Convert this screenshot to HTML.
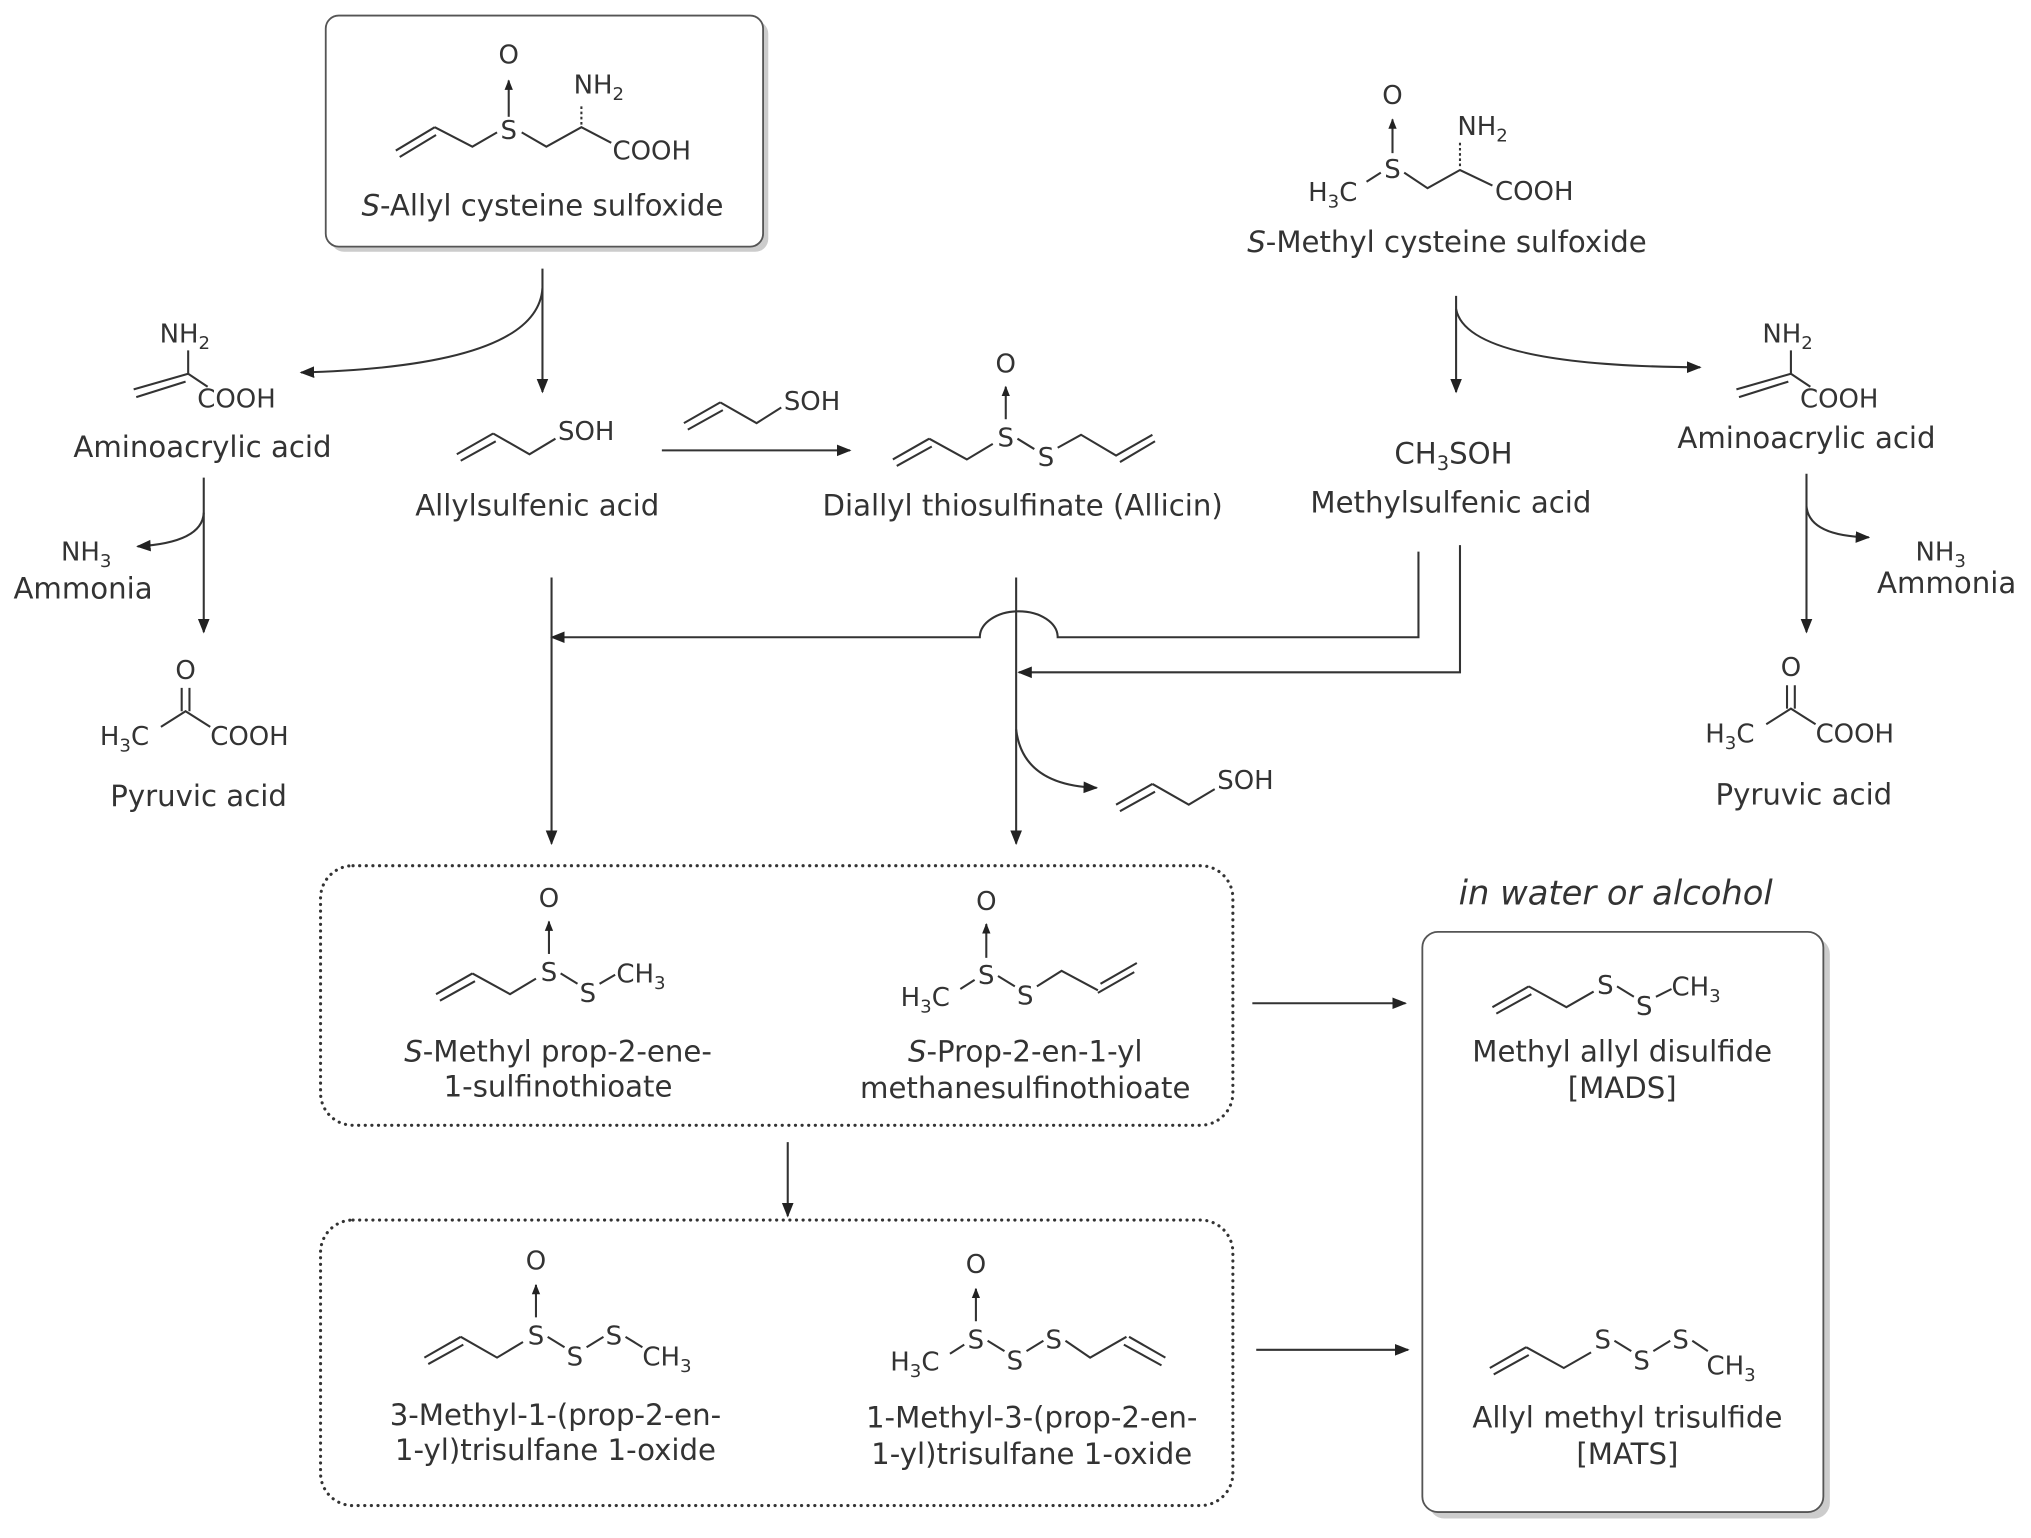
<!DOCTYPE html>
<html><head><meta charset="utf-8"><style>
html,body{margin:0;padding:0;background:#fff}
svg{display:block}
text{font-family:"DejaVu Sans","Liberation Sans",sans-serif;fill:#333;font-size:22.5px}
.m{font-size:20px}
.l{stroke:#333;stroke-width:1.6;fill:none}
.b{stroke:#333;stroke-width:2.4;fill:none;stroke-dasharray:0.1 5;stroke-linecap:round}
</style></head><body>
<svg width="2031" height="1538" viewBox="0 0 1565 1185" preserveAspectRatio="none" xmlns="http://www.w3.org/2000/svg">
<defs>
<marker id="a" viewBox="0 0 10 10" refX="9" refY="5" markerWidth="7" markerHeight="7" orient="auto-start-reverse"><path d="M0,1 L10,5 L0,9 z" fill="#222"/></marker>
<marker id="o" viewBox="0 0 10 10" refX="9" refY="5" markerWidth="5" markerHeight="7" orient="auto"><path d="M0,1 L10,5 L0,9 z" fill="#222"/></marker>
</defs>

<!-- top-left box -->
<rect x="255" y="16" width="337" height="178" rx="10" fill="#ccc"/>
<rect x="251" y="12" width="337" height="178" rx="10" fill="#fff" stroke="#555" stroke-width="1.4"/>
<text x="392" y="49" text-anchor="middle" class="m">O</text>
<path class="l" d="M392,90 L392,62" marker-end="url(#o)"/>
<text x="392" y="107" text-anchor="middle" class="m">S</text>
<path class="l" d="M305,116 L335,98 M308,121 L336,104 M335,98 L364,113 L383,102 M402,102 L421,113 L448,98 L471,110"/>
<path class="l" d="M448,96 L448,80" stroke-dasharray="2 2"/>
<text x="442" y="72" class="m">NH<tspan font-size="14" dy="5">2</tspan></text>
<text x="472" y="123" class="m">COOH</text>
<text x="418" y="166" text-anchor="middle"><tspan font-style="italic">S</tspan>-Allyl cysteine sulfoxide</text>

<path class="l" d="M418,207 L418,302" marker-end="url(#a)"/>
<path class="l" d="M418,222 Q414,282 232,287" marker-end="url(#a)"/>

<!-- left aminoacrylic -->
<text x="123" y="264" class="m">NH<tspan font-size="14" dy="5">2</tspan></text>
<path class="l" d="M145,270 L145,288 M103,300 L145,288 L160,298 M105,306 L143,294"/>
<text x="152" y="314" class="m">COOH</text>
<text x="156" y="352" text-anchor="middle">Aminoacrylic acid</text>
<path class="l" d="M157,368 L157,487" marker-end="url(#a)"/>
<path class="l" d="M157,395 Q156,418 106,421" marker-end="url(#a)"/>
<text x="47" y="432" class="m">NH<tspan font-size="14" dy="5">3</tspan></text>
<text x="64" y="461" text-anchor="middle">Ammonia</text>
<text x="143" y="523" text-anchor="middle" class="m">O</text>
<path class="l" d="M140,530 L140,548 M146,530 L146,548 M124,560 L143,548 L162,560"/>
<text x="77" y="574" class="m">H<tspan font-size="14" dy="5">3</tspan><tspan dy="-5">C</tspan></text>
<text x="162" y="574" class="m">COOH</text>
<text x="153" y="621" text-anchor="middle">Pyruvic acid</text>

<!-- allylsulfenic acid -->
<path class="l" d="M352,350 L380,334 M355,355 L382,340 M380,334 L408,350 L428,338"/>
<text x="430" y="339" class="m">SOH</text>
<text x="414" y="397" text-anchor="middle">Allylsulfenic acid</text>
<path class="l" d="M510,347 L655,347" marker-end="url(#a)"/>
<path class="l" d="M527,326 L555,310 M530,331 L557,316 M555,310 L583,326 L602,314"/>
<text x="604" y="316" class="m">SOH</text>

<!-- allicin -->
<text x="775" y="287" text-anchor="middle" class="m">O</text>
<path class="l" d="M775,323 L775,298" marker-end="url(#o)"/>
<text x="775" y="344" text-anchor="middle" class="m">S</text>
<text x="806" y="359" text-anchor="middle" class="m">S</text>
<path class="l" d="M688,354 L716,338 M691,359 L718,344 M716,338 L745,354 L765,342 M784,338 L797,346 M815,345 L833,335 L860,351 L888,335 M863,356 L890,340"/>
<text x="788" y="397" text-anchor="middle">Diallyl thiosulfinate (Allicin)</text>

<!-- right top -->
<text x="1073" y="80" text-anchor="middle" class="m">O</text>
<path class="l" d="M1073,118 L1073,92" marker-end="url(#o)"/>
<text x="1073" y="137" text-anchor="middle" class="m">S</text>
<text x="1008" y="155" class="m">H<tspan font-size="14" dy="5">3</tspan><tspan dy="-5">C</tspan></text>
<path class="l" d="M1053,140 L1064,133 M1082,133 L1100,145 L1125,131 L1150,143"/>
<path class="l" d="M1125,128 L1125,110" stroke-dasharray="2 2"/>
<text x="1123" y="104" class="m">NH<tspan font-size="14" dy="5">2</tspan></text>
<text x="1152" y="154" class="m">COOH</text>
<text x="1115" y="194" text-anchor="middle"><tspan font-style="italic">S</tspan>-Methyl cysteine sulfoxide</text>
<path class="l" d="M1122,228 L1122,302" marker-end="url(#a)"/>
<path class="l" d="M1122,238 Q1130,282 1310,283" marker-end="url(#a)"/>
<text x="1120" y="357" text-anchor="middle">CH<tspan font-size="15" dy="5">3</tspan><tspan dy="-5">SOH</tspan></text>
<text x="1118" y="395" text-anchor="middle">Methylsulfenic acid</text>

<!-- right aminoacrylic -->
<text x="1358" y="264" class="m">NH<tspan font-size="14" dy="5">2</tspan></text>
<path class="l" d="M1380,270 L1380,288 M1338,300 L1380,288 L1395,298 M1340,306 L1378,294"/>
<text x="1387" y="314" class="m">COOH</text>
<text x="1392" y="345" text-anchor="middle">Aminoacrylic acid</text>
<path class="l" d="M1392,365 L1392,487" marker-end="url(#a)"/>
<path class="l" d="M1392,390 Q1394,413 1440,414" marker-end="url(#a)"/>
<text x="1476" y="432" class="m">NH<tspan font-size="14" dy="5">3</tspan></text>
<text x="1500" y="457" text-anchor="middle">Ammonia</text>
<text x="1380" y="521" text-anchor="middle" class="m">O</text>
<path class="l" d="M1377,528 L1377,546 M1383,528 L1383,546 M1361,558 L1380,546 L1399,558"/>
<text x="1314" y="572" class="m">H<tspan font-size="14" dy="5">3</tspan><tspan dy="-5">C</tspan></text>
<text x="1399" y="572" class="m">COOH</text>
<text x="1390" y="620" text-anchor="middle">Pyruvic acid</text>

<!-- middle connectors -->
<path class="l" d="M1093,425 L1093,491 L815,491 A30,20 0 0 0 755,491 L425,491" marker-end="url(#a)"/>
<path class="l" d="M1125,420 L1125,518 L785,518" marker-end="url(#a)"/>
<path class="l" d="M425,445 L425,650" marker-end="url(#a)"/>
<path class="l" d="M783,445 L783,650" marker-end="url(#a)"/>
<path class="l" d="M783,562 Q788,605 845,607" marker-end="url(#a)"/>
<path class="l" d="M860,620 L888,604 M863,625 L890,610 M888,604 L916,620 L936,608"/>
<text x="938" y="608" class="m">SOH</text>

<!-- dotted box 1 -->
<rect class="b" x="247" y="667" width="703" height="200" rx="25"/>
<text x="423" y="699" text-anchor="middle" class="m">O</text>
<path class="l" d="M423,735 L423,710" marker-end="url(#o)"/>
<text x="423" y="756" text-anchor="middle" class="m">S</text>
<text x="453" y="772" text-anchor="middle" class="m">S</text>
<path class="l" d="M336,766 L364,750 M339,771 L366,756 M364,750 L393,766 L413,754 M432,750 L445,758 M462,758 L474,751"/>
<text x="475" y="757" class="m">CH<tspan font-size="14" dy="5">3</tspan></text>
<text x="430" y="818" text-anchor="middle"><tspan font-style="italic">S</tspan>-Methyl prop-2-ene-</text>
<text x="430" y="845" text-anchor="middle">1-sulfinothioate</text>

<text x="760" y="701" text-anchor="middle" class="m">O</text>
<path class="l" d="M760,738 L760,712" marker-end="url(#o)"/>
<text x="760" y="758" text-anchor="middle" class="m">S</text>
<text x="790" y="774" text-anchor="middle" class="m">S</text>
<text x="694" y="775" class="m">H<tspan font-size="14" dy="5">3</tspan><tspan dy="-5">C</tspan></text>
<path class="l" d="M740,762 L751,755 M769,752 L782,760 M799,760 L818,748 L846,763 M848,758 L876,742 M846,765 L874,749"/>
<text x="790" y="818" text-anchor="middle"><tspan font-style="italic">S</tspan>-Prop-2-en-1-yl</text>
<text x="790" y="846" text-anchor="middle">methanesulfinothioate</text>

<path class="l" d="M607,880 L607,937" marker-end="url(#a)"/>
<path class="l" d="M965,773 L1083,773" marker-end="url(#a)"/>
<path class="l" d="M968,1040 L1085,1040" marker-end="url(#a)"/>

<!-- dotted box 2 -->
<rect class="b" x="247" y="940" width="703" height="220" rx="25"/>
<text x="413" y="978" text-anchor="middle" class="m">O</text>
<path class="l" d="M413,1015 L413,990" marker-end="url(#o)"/>
<text x="413" y="1036" text-anchor="middle" class="m">S</text>
<text x="443" y="1052" text-anchor="middle" class="m">S</text>
<text x="473" y="1036" text-anchor="middle" class="m">S</text>
<path class="l" d="M327,1046 L355,1030 M330,1051 L357,1036 M355,1030 L383,1046 L403,1034 M422,1030 L435,1038 M452,1038 L465,1030 M482,1030 L495,1038"/>
<text x="495" y="1052" class="m">CH<tspan font-size="14" dy="5">3</tspan></text>
<text x="428" y="1098" text-anchor="middle">3-Methyl-1-(prop-2-en-</text>
<text x="428" y="1125" text-anchor="middle">1-yl)trisulfane 1-oxide</text>

<text x="752" y="981" text-anchor="middle" class="m">O</text>
<path class="l" d="M752,1018 L752,993" marker-end="url(#o)"/>
<text x="752" y="1039" text-anchor="middle" class="m">S</text>
<text x="782" y="1055" text-anchor="middle" class="m">S</text>
<text x="812" y="1039" text-anchor="middle" class="m">S</text>
<text x="686" y="1056" class="m">H<tspan font-size="14" dy="5">3</tspan><tspan dy="-5">C</tspan></text>
<path class="l" d="M732,1043 L743,1036 M761,1033 L774,1041 M791,1041 L804,1033 M821,1033 L840,1046 L868,1030 M866,1036 L895,1052 M870,1030 L898,1046"/>
<text x="795" y="1100" text-anchor="middle">1-Methyl-3-(prop-2-en-</text>
<text x="795" y="1128" text-anchor="middle">1-yl)trisulfane 1-oxide</text>

<!-- right box -->
<text x="1245" y="697" text-anchor="middle" font-style="italic" style="font-size:26px">in water or alcohol</text>
<rect x="1101" y="723" width="309" height="447" rx="12" fill="#ccc"/>
<rect x="1096" y="718" width="309" height="447" rx="12" fill="#fff" stroke="#555" stroke-width="1.4"/>
<text x="1237" y="766" text-anchor="middle" class="m">S</text>
<text x="1267" y="782" text-anchor="middle" class="m">S</text>
<path class="l" d="M1150,776 L1178,760 M1153,781 L1180,766 M1178,760 L1207,776 L1228,764 M1246,760 L1259,768 M1276,768 L1288,762"/>
<text x="1288" y="767" class="m">CH<tspan font-size="14" dy="5">3</tspan></text>
<text x="1250" y="818" text-anchor="middle">Methyl allyl disulfide</text>
<text x="1250" y="846" text-anchor="middle">[MADS]</text>
<text x="1235" y="1039" text-anchor="middle" class="m">S</text>
<text x="1265" y="1055" text-anchor="middle" class="m">S</text>
<text x="1295" y="1039" text-anchor="middle" class="m">S</text>
<path class="l" d="M1148,1054 L1176,1038 M1151,1059 L1178,1044 M1176,1038 L1205,1054 L1226,1042 M1244,1033 L1257,1041 M1274,1041 L1287,1033 M1304,1033 L1316,1041"/>
<text x="1315" y="1059" class="m">CH<tspan font-size="14" dy="5">3</tspan></text>
<text x="1254" y="1100" text-anchor="middle">Allyl methyl trisulfide</text>
<text x="1254" y="1128" text-anchor="middle">[MATS]</text>
</svg>
</body></html>
